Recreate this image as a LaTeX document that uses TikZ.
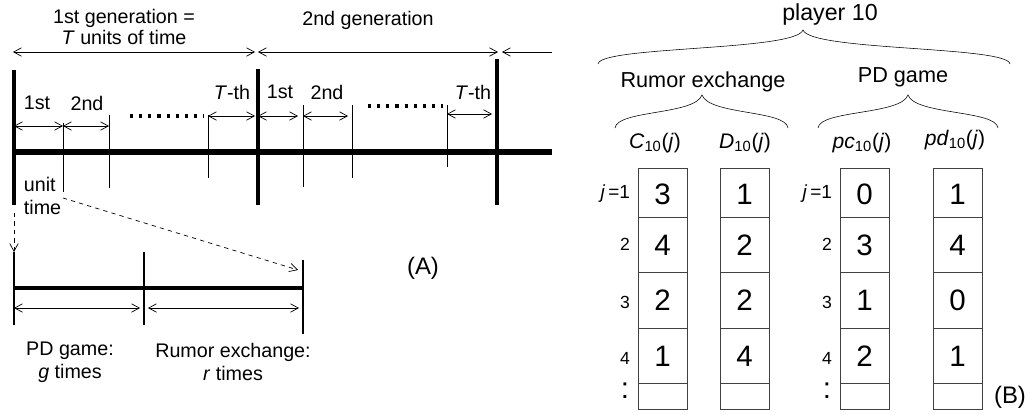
\documentclass[tikz,border=0pt]{standalone}
\usepackage{fontspec}
\setmainfont{Liberation Sans}
\usetikzlibrary{arrows.meta}

% curly brace: left x, tip x, right x, end y, tip y
\newcommand{\brc}[5]{\draw[thin] (#1,#4) .. controls (#1+2,#4-18) and (#2-7,#4-13) .. (#2,#5)
  .. controls (#2+7,#4-13) and (#3-2,#4-18) .. (#3,#4);}

\begin{document}
\begin{tikzpicture}[x=0.025cm,y=-0.025cm,>={Straight Barb[length=5.5pt,width=6pt]},
    every node/.style={font=\fontsize{14}{16.5}\selectfont},
    bar/.style={line width=2.8pt}, tick/.style={line width=0.6pt},
    span/.style={<->,line width=0.5pt}, link/.style={->,dashed,line width=0.5pt},
    digit/.style={font=\fontsize{21}{21}\selectfont},
    rowlbl/.style={font=\fontsize{12.5}{12.5}\selectfont},
    cell/.style={line width=0.6pt,black!75}]
  \useasboundingbox (0,0) rectangle (1033,415);

  % (A) generations
  \node[align=center,font=\fontsize{14}{15}\selectfont] (gen1) at (124,27) {1st generation =\\\textit{T} units of time};
  \node (gen2) at (368,20) {2nd generation};
  \coordinate (g0) at (13,52); \coordinate (g1) at (255,52);
  \coordinate (g2) at (258,52); \coordinate (g3) at (498,52);
  \coordinate (g4) at (502,52); \coordinate (g5) at (552,52);
  \draw[span] (g0) -- (g1); \draw[span] (g2) -- (g3); \draw[<-,line width=0.5pt] (g4) -- (g5);

  \draw[line width=4.3pt] (14,152) -- (552,152);
  \draw[bar] (14,70) -- (14,205); \draw[bar] (258,69) -- (258,205); \draw[bar] (497,59) -- (497,205);
  \foreach \x/\a/\b in {63/123/192,109/115/188,208/115/178,303/105/187,352/105/178,447/105/167}
    \draw[tick] (\x,\a) -- (\x,\b);

  \draw[span] (14,126) -- (63,126); \draw[span] (63,126) -- (109,126); \draw[span] (208,116) -- (255,116);
  \draw[span] (258,116) -- (298,116); \draw[span] (303,116) -- (348,116); \draw[span] (447,114) -- (492,114);
  \node (u1) at (37,103) {1st}; \node (u2) at (87,103) {2nd}; \node (uT) at (232,92) {\textit{T}-th};
  \node (v1) at (280,92) {1st}; \node (v2) at (327,92) {2nd}; \node (vT) at (473,92) {\textit{T}-th};
  \draw[line width=2.2pt,dash pattern=on 2.2pt off 4.3pt] (130,116) -- (204,116);
  \draw[line width=2.2pt,dash pattern=on 2.2pt off 4.3pt] (368,106) -- (443,106);

  % one unit of time
  \node[anchor=west,align=left] (unit) at (19,196) {unit\\time};
  \coordinate (d0) at (14,213); \coordinate (d1) at (14,252);
  \coordinate (e0) at (63,198); \coordinate (e1) at (298,270);
  \draw[link] (d0) -- (d1); \draw[link] (e0) -- (e1);
  \draw[line width=2pt] (14,252) -- (14,325); \draw[line width=2pt] (144,252) -- (144,325);
  \draw[line width=2pt] (303,260) -- (303,334);
  \draw[line width=3.5pt] (14,288) -- (303,288);
  \draw[span] (14,308) -- (140,308); \draw[span] (148,308) -- (299,308);
  \node[align=center] (pd) at (70,362) {PD game:\\\textit{g} times};
  \node[align=center] (rx) at (233,362) {Rumor exchange:\\\textit{r} times};
  \node[font=\fontsize{17}{17}\selectfont] (lblA) at (423,268) {(A)};

  % (B) memory of player 10
  \node[font=\fontsize{16.5}{17}\selectfont] (pl) at (830,15) {player 10};
  \brc{598}{803}{1010}{64}{30}
  \node[font=\fontsize{15.4}{16}\selectfont] (rum) at (703,82) {Rumor exchange};
  \node[font=\fontsize{15.4}{16}\selectfont] (pdg) at (903,77) {PD game};
  \brc{615}{702}{788}{128}{95}
  \brc{818}{908}{998}{128}{95}
  \node[font=\fontsize{15}{16}\selectfont] (hC) at (655,143) {\textit{C}\textsubscript{10}(\textit{j})};
  \node[font=\fontsize{15}{16}\selectfont] (hD) at (745,143) {\textit{D}\textsubscript{10}(\textit{j})};
  \node[font=\fontsize{15}{16}\selectfont] (hpc) at (862,143) {\textit{pc}\textsubscript{10}(\textit{j})};
  \node[font=\fontsize{15}{16}\selectfont] (hpd) at (955,140) {\textit{pd}\textsubscript{10}(\textit{j})};

  \foreach \x/\a/\b/\c/\d [count=\i] in {638/3/4/2/1,720/1/2/2/4,840/0/3/1/2,933/1/4/0/1} {
    \draw[cell] (\x,168) rectangle (\x+49,409);
    \foreach \y in {217,272,328,383} \draw[cell] (\x,\y) -- (\x+49,\y);
    \node[digit] (m\i-1) at (\x+24.5,194) {\a};
    \node[digit] (m\i-2) at (\x+24.5,245) {\b};
    \node[digit] (m\i-3) at (\x+24.5,300) {\c};
    \node[digit] (m\i-4) at (\x+24.5,356) {\d};
  }
  \foreach \x [count=\i] in {635,837} {
    \node[anchor=east,font=\fontsize{13.5}{14}\selectfont] (j\i-1) at (\x,194) {\textit{j}\,=1};
    \node[rowlbl] (j\i-2) at (\x-10,244) {2};
    \node[rowlbl] (j\i-3) at (\x-10,302) {3};
    \node[rowlbl] (j\i-4) at (\x-10,358) {4};
    \node[digit] (j\i-5) at (\x-10,391) {:};
  }
  \node[font=\fontsize{17}{17}\selectfont] (lblB) at (1010,397) {(B)};
\end{tikzpicture}
\end{document}
